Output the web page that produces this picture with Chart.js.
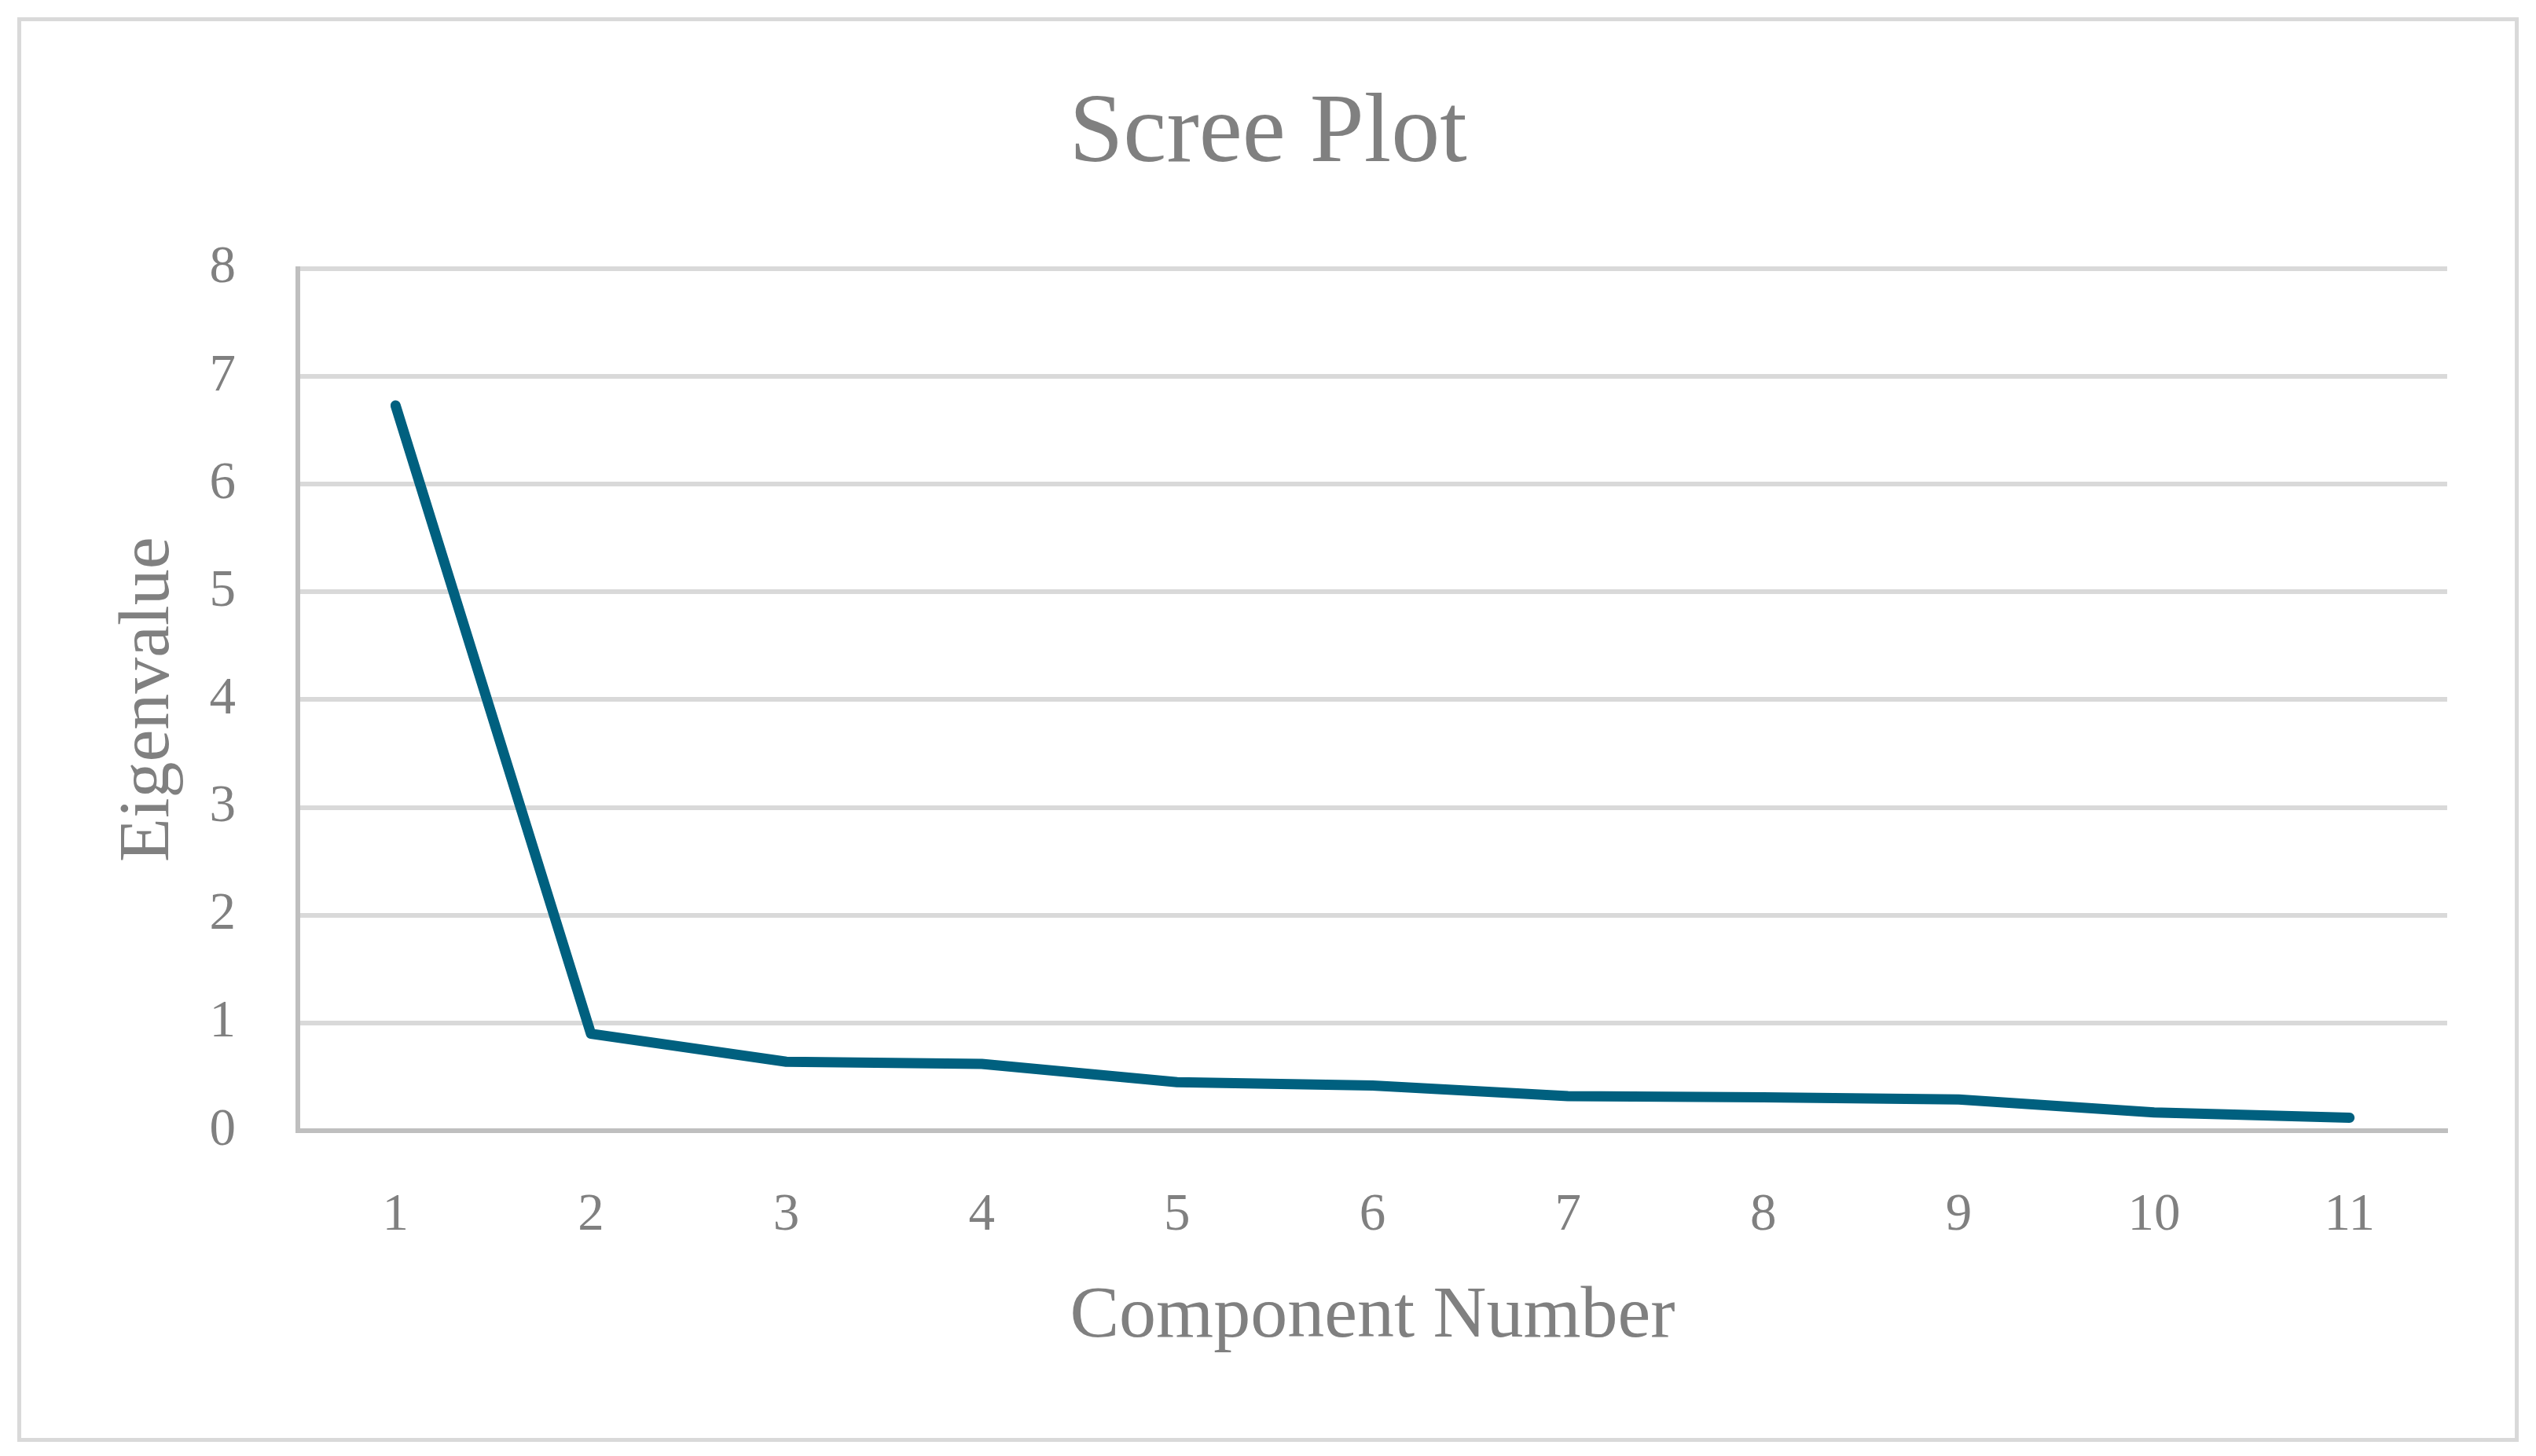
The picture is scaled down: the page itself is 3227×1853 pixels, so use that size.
<!DOCTYPE html>
<html>
<head>
<meta charset="utf-8">
<script src="https://cdn.jsdelivr.net/npm/chart.js@4/dist/chart.umd.min.js"></script>
<style>
  html, body { margin: 0; padding: 0; background: #ffffff; overflow: hidden; }
  #wrap { position: absolute; left: 0; top: 0; width: 3227px; height: 1853px; }
  #frame { position: absolute; left: 22px; top: 22px; width: 3183px; height: 1813px; box-sizing: border-box; border: 5px solid #D9D9D9; pointer-events: none; }
</style>
</head>
<body>
<div id="wrap"><canvas id="c"></canvas></div>
<div id="frame"></div>
<script>
const components = ["1", "2", "3", "4", "5", "6", "7", "8", "9", "10", "11"];
const eigenvalues = [6.73, 0.90, 0.64, 0.62, 0.45, 0.42, 0.32, 0.31, 0.29, 0.17, 0.12];
const chartTitle = "Scree Plot";
const xTitle = "Component Number";
const yTitle = "Eigenvalue";

const FONT = "'Liberation Serif', 'Times New Roman', serif";
const GRAY = '#808080';

new Chart(document.getElementById('c'), {
  type: 'line',
  data: {
    labels: components,
    datasets: [{
      label: yTitle,
      data: eigenvalues,
      borderColor: '#00607F',
      backgroundColor: '#00607F',
      borderWidth: 13,
      borderCapStyle: 'round',
      borderJoinStyle: 'round',
      pointRadius: 0,
      pointHoverRadius: 0,
      tension: 0,
      fill: false
    }]
  },
  options: {
    responsive: true,
    maintainAspectRatio: false,
    animation: false,
    layout: { padding: { left: 0, right: 0, top: 0, bottom: 0 } },
    plugins: {
      legend: { display: false },
      tooltip: { enabled: false },
      title: {
        display: true,
        text: chartTitle,
        color: GRAY,
        font: { family: FONT, size: 124, weight: 'normal' },
        padding: { top: 98, bottom: 95 }
      }
    },
    scales: {
      x: {
        offset: true,
        grid: { display: true, drawOnChartArea: false, drawTicks: false },
        border: { display: true, color: '#BFBFBF', width: 6 },
        ticks: { color: GRAY, font: { family: FONT, size: 67 }, padding: 68, maxRotation: 0 },
        title: {
          display: true, text: xTitle, color: GRAY,
          font: { family: FONT, size: 94 },
          padding: { top: 0, bottom: 120 }
        },
        afterFit: (s) => { s.width = s.width; s.height = 414; }
      },
      y: {
        min: 0, max: 8,
        grid: { color: '#D9D9D9', lineWidth: 6, drawTicks: false },
        border: { display: true, color: '#BFBFBF', width: 6 },
        ticks: { stepSize: 1, color: GRAY, font: { family: FONT, size: 67 }, padding: 79 },
        title: {
          display: true, text: yTitle, color: GRAY,
          font: { family: FONT, size: 92 },
          padding: { top: 135, bottom: 0 }
        },
        afterFit: (s) => { s.width = 379; }
      },
      yRightSpace: {
        type: 'linear',
        position: 'right',
        display: true,
        grid: { display: false, drawTicks: false },
        border: { display: false },
        ticks: { display: false },
        afterFit: (s) => { s.width = 113; }
      }
    }
  }
});
</script>
</body>
</html>
